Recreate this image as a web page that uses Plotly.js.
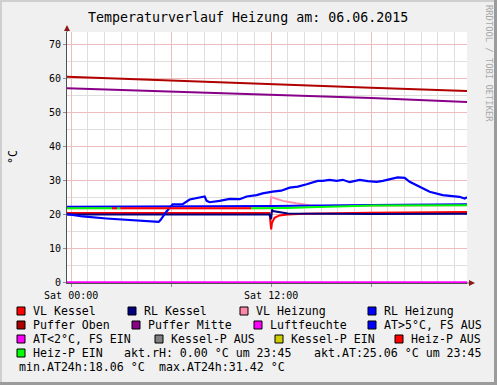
<!DOCTYPE html>
<html><head><meta charset="utf-8">
<script src="https://cdn.plot.ly/plotly-3.0.1.min.js"></script>
<style>html,body{margin:0;padding:0;background:#F0F0F0;}#chart{width:497px;height:385px;}</style>
</head><body><div id="chart"></div>
<script>
// ---------------- DATA ----------------
const titleText = "Temperaturverlauf Heizung am: 06.06.2015";
const xTickVals = [0, 6, 12, 18];
const xTickText = ["Sat 00:00", "", "Sat 12:00", ""];
const yTickVals = [0, 10, 20, 30, 40, 50, 60, 70];

// hours since Sat 00:00
const pufferTimes = [-0.25, 6, 12, 18, 23.75];
const pufferOben  = [60.6, 59.4, 58.4, 57.3, 56.4];
const pufferMitte = [57.2, 56.2, 55.3, 54.3, 53.1];

const vlKesselTimes = [-0.25, 11.9, 12.0, 12.05, 12.2, 12.5, 13, 14, 18, 23.75];
const vlKessel      = [20.4, 20.4, 15.6, 17.5, 19.0, 19.7, 20.0, 20.2, 20.5, 20.7];

const rlKesselTimes = [-0.25, 11.9, 12.0, 12.05, 12.1, 12.5, 13, 18, 23.75];
const rlKessel      = [20.0, 20.0, 18.6, 21.5, 21.0, 20.7, 20.3, 20.1, 20.2];

const vlHeizTimes = [-0.25, 11.95, 12.0, 12.7, 13.5, 14.3, 15, 23.75];
const vlHeizung   = [21.8, 21.8, 25.1, 24.0, 23.3, 22.7, 22.5, 22.7];

const rlHeizTimes = [-0.25, 11.95, 12.05, 18, 23.75];
const rlHeizung   = [22.3, 22.3, 22.5, 22.8, 23.0];

const luftTimes = [-0.25, 23.75];
const luftfeuchte = [0, 0];

const atTimes = [-0.25, 0.69, 2.11, 3.51, 4.29, 5.25, 5.37, 5.71, 6.09, 6.69, 7.11, 7.59, 8.01, 8.13, 8.31, 8.91, 9.51, 10.11, 10.53, 11.13, 11.49, 12.09, 12.6, 13.11, 13.6, 14.13, 14.79, 15.09, 15.5, 15.93, 16.3, 16.71, 17.31, 17.8, 18.33, 18.7, 19.11, 19.59, 20.01, 20.31, 21.09, 21.51, 22.29, 22.89, 23.3, 23.61, 23.75];
const atValues = [20.1, 19.4, 18.8, 18.4, 18.1, 17.8, 18.4, 20.8, 23.0, 23.0, 24.4, 25.0, 25.3, 24.0, 23.6, 24.0, 24.6, 24.5, 25.3, 25.7, 26.2, 26.7, 27.0, 27.9, 28.2, 28.9, 29.9, 29.9, 30.2, 29.9, 30.2, 29.5, 30.2, 29.8, 29.6, 29.9, 30.4, 30.9, 30.8, 29.6, 27.7, 26.7, 25.7, 25.4, 25.2, 24.7, 25.06];

// heating pump status line (state valid from that point to the next)
const pumpTimes  = [-0.25, 2.45, 2.75, 2.95, 10.8, 12, 13, 14.3, 16, 18.2, 23.75];
const pumpValues = [21.8, 21.8, 21.8, 21.8, 21.8, 21.8, 21.9, 22.1, 22.4, 22.6, 22.7];
const pumpState  = ["EIN", "AUS", "EIN", "AUS", "EIN", "EIN", "EIN", "EIN", "EIN", "EIN", "EIN"];

const legendLabels = ["VL Kessel", "RL Kessel", "VL Heizung", "RL Heizung",
  "Puffer Oben", "Puffer Mitte", "Luftfeuchte", "AT>5°C, FS AUS",
  "AT<2°C, FS EIN", "Kessel-P AUS", "Kessel-P EIN", "Heiz-P AUS", "Heiz-P EIN"];
const infoTexts = ["akt.rH: 0.00 °C um 23:45", "akt.AT:25.06 °C um 23:45",
  "min.AT24h:18.06 °C", "max.AT24h:31.42 °C"];

// ---------------- STYLE ----------------
const C = {
  vlKessel: "#FF0000", rlKessel: "#000080", vlHeizung: "#FF88AA", rlHeizung: "#0000FF",
  pufferOben: "#AA0000", pufferMitte: "#880088", luft: "#FF00FF", atHi: "#0000FF",
  atLo: "#FF00FF", kpAus: "#808080", kpEin: "#CCCC00", hpAus: "#FF0000", hpEin: "#00FF00"
};
const legendColors = [C.vlKessel, C.rlKessel, C.vlHeizung, C.rlHeizung, C.pufferOben, C.pufferMitte,
  C.luft, C.atHi, C.atLo, C.kpAus, C.kpEin, C.hpAus, C.hpEin];
const legendPos = [
  [17, 311], [128, 311], [240, 311], [368, 311],
  [17, 325], [132, 325], [254, 325], [368, 325],
  [17, 339], [155, 339], [275, 339], [395, 339],
  [17, 353]
];
const infoPos = [[122, 353], [312, 353], [17, 367], [157, 367]];

const FONT = "DejaVu Sans Mono";
const L = 67, R = 30, T = 32, B = 102, W = 497, H = 385;
const PW = W - L - R, PH = H - T - B;
const PX = x => (x - L) / PW;
const PY = y => (H - B - y) / PH;

function line(x, y, color, w) {
  return {x: x, y: y, type: "scatter", mode: "lines", line: {color: color, width: w || 2}, hoverinfo: "skip"};
}

const traces = [
  line(vlKesselTimes, vlKessel, C.vlKessel),
  line(rlKesselTimes, rlKessel, C.rlKessel),
  line(vlHeizTimes, vlHeizung, "#FF90B0"),
  line(rlHeizTimes, rlHeizung, C.rlHeizung),
  line(pufferTimes, pufferOben, "#B00000"),
  line(pufferTimes, pufferMitte, C.pufferMitte),
  line(luftTimes, luftfeuchte, C.luft),
  line(atTimes, atValues, C.atHi, 2.2)
];
// pump segments
let i = 0;
while (i < pumpTimes.length - 1) {
  const st = pumpState[i];
  const xs = [pumpTimes[i]], ys = [pumpValues[i]];
  let j = i + 1;
  while (j < pumpTimes.length) {
    xs.push(pumpTimes[j]); ys.push(pumpValues[j]);
    if (j < pumpTimes.length - 1 && pumpState[j] !== st) break;
    j++;
  }
  traces.push(line(xs, ys, st === "EIN" ? C.hpEin : C.hpAus));
  i = j;
}

const shapes = [];
const annotations = [];

// outer border
shapes.push({type: "line", xref: "paper", yref: "paper", x0: PX(1), x1: PX(1), y0: PY(0), y1: PY(H), line: {color: "#CFCFCF", width: 2}});
shapes.push({type: "line", xref: "paper", yref: "paper", x0: PX(0), x1: PX(W), y0: PY(1), y1: PY(1), line: {color: "#CFCFCF", width: 2}});
shapes.push({type: "line", xref: "paper", yref: "paper", x0: PX(W - 1.5), x1: PX(W - 1.5), y0: PY(0), y1: PY(H), line: {color: "#9B9B9B", width: 3}});
shapes.push({type: "line", xref: "paper", yref: "paper", x0: PX(0), x1: PX(W), y0: PY(H - 1.5), y1: PY(H - 1.5), line: {color: "#9B9B9B", width: 3}});

// axis extensions and arrows
shapes.push({type: "line", xref: "paper", yref: "paper", x0: PX(L), x1: PX(L), y0: PY(T), y1: PY(28), line: {color: "#505050", width: 1}});
shapes.push({type: "path", xref: "paper", yref: "paper",
  path: `M ${PX(L - 3)} ${PY(31)} L ${PX(L + 3)} ${PY(31)} L ${PX(L)} ${PY(25)} Z`,
  fillcolor: "#8B1A1A", line: {width: 0}});
shapes.push({type: "line", xref: "paper", yref: "paper", x0: PX(W - R), x1: PX(470), y0: PY(283), y1: PY(283), line: {color: "#505050", width: 1}});
shapes.push({type: "path", xref: "paper", yref: "paper",
  path: `M ${PX(469)} ${PY(280)} L ${PX(469)} ${PY(286)} L ${PX(475)} ${PY(283)} Z`,
  fillcolor: "#8B1A1A", line: {width: 0}});

// legend
legendLabels.forEach((lab, k) => {
  const [bx, by] = legendPos[k];
  shapes.push({type: "rect", xref: "paper", yref: "paper", x0: PX(bx), x1: PX(bx + 8), y0: PY(by + 4), y1: PY(by - 4),
    fillcolor: legendColors[k], line: {color: "#000000", width: 1}});
  annotations.push({xref: "paper", yref: "paper", x: PX(bx + 14), y: PY(by), xanchor: "left", yanchor: "middle",
    text: lab, showarrow: false, font: {family: FONT, size: 11.6, color: "#000"}});
});
infoTexts.forEach((t, k) => {
  annotations.push({xref: "paper", yref: "paper", x: PX(infoPos[k][0]), y: PY(infoPos[k][1]), xanchor: "left", yanchor: "middle",
    text: t, showarrow: false, font: {family: FONT, size: 11.6, color: "#000"}});
});
// y unit
annotations.push({xref: "paper", yref: "paper", x: PX(13), y: PY(157), xanchor: "center", yanchor: "middle",
  text: "°C", textangle: -90, showarrow: false, font: {family: FONT, size: 11.6, color: "#000"}});
// watermark
annotations.push({xref: "paper", yref: "paper", x: PX(489), y: PY(63), xanchor: "center", yanchor: "middle",
  text: "RRDTOOL / TOBI OETIKER", textangle: 90, showarrow: false, font: {family: FONT, size: 8.8, color: "#A8A8A8"}});
// title
annotations.push({xref: "paper", yref: "paper", x: PX(248), y: PY(17), xanchor: "center", yanchor: "middle",
  text: titleText, showarrow: false, font: {family: FONT, size: 13.3, color: "#000"}});

const layout = {
  width: W, height: H,
  margin: {l: L, r: R, t: T, b: B, pad: 0},
  paper_bgcolor: "#F0F0F0", plot_bgcolor: "#FFFFFF",
  showlegend: false,
  font: {family: FONT, size: 10, color: "#000"},
  xaxis: {
    range: [-0.25, 23.75], tickvals: xTickVals, ticktext: xTickText,
    showgrid: true, gridcolor: "#EDBCBC", gridwidth: 1,
    minor: {dtick: 1, tick0: 0, showgrid: true, gridcolor: "#DEDEDE", gridwidth: 1, ticks: ""},
    zeroline: false, showline: true, linecolor: "#505050", linewidth: 1,
    ticks: "outside", ticklen: 3, tickcolor: "#909090",
    tickfont: {family: FONT, size: 10, color: "#000"}, layer: "below traces", fixedrange: true
  },
  yaxis: {
    range: [-0.2, 73.75], tickvals: yTickVals,
    showgrid: true, gridcolor: "#EDBCBC", gridwidth: 1,
    minor: {dtick: 5, tick0: 0, showgrid: true, gridcolor: "#DEDEDE", gridwidth: 1, ticks: ""},
    zeroline: false, showline: true, linecolor: "#505050", linewidth: 1,
    ticks: "outside", ticklen: 3, tickcolor: "#909090",
    tickfont: {family: FONT, size: 10, color: "#000"}, layer: "below traces", fixedrange: true
  },
  shapes: shapes,
  annotations: annotations
};

Plotly.newPlot("chart", traces, layout, {displayModeBar: false, staticPlot: true});
</script>
</body></html>
